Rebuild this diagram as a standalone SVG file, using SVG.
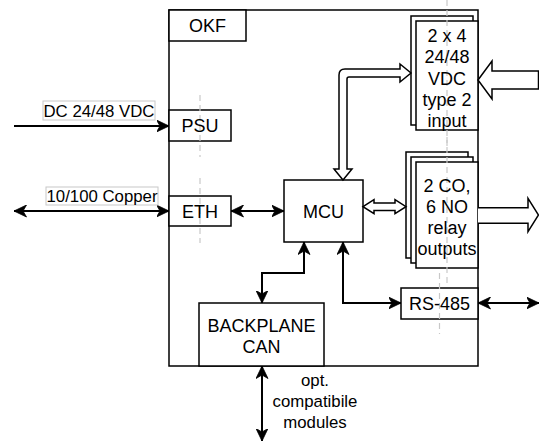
<svg xmlns="http://www.w3.org/2000/svg" width="539" height="441" viewBox="0 0 539 441">
<style>
.box{fill:#fff;stroke:#000;stroke-width:1.5}
.frame{fill:none;stroke:#000;stroke-width:1.5}
.t{font-family:"Liberation Sans",Arial,sans-serif;font-size:18px;fill:#000;text-anchor:middle}
.s{font-family:"Liberation Sans",Arial,sans-serif;font-size:16.8px;fill:#000;text-anchor:middle}
.lbl{fill:#fff;stroke:#c8c8c8;stroke-width:1}
.dash{stroke:#c8c8c8;stroke-width:1.2;stroke-dasharray:6 4;fill:none}
.con{fill:none;stroke:#000;stroke-width:2}
.end{marker-end:url(#arr)}
.both{marker-start:url(#arr);marker-end:url(#arr)}
.flex{fill:#fff;stroke:#000;stroke-width:1.5;stroke-linejoin:miter}
</style>
<defs>
<marker id="arr" viewBox="0 0 13 13" refX="12.5" refY="6.5" markerWidth="13" markerHeight="13" markerUnits="userSpaceOnUse" orient="auto-start-reverse">
<path d="M0,0.5 L12.5,6.5 L0,12.5 L3.5,6.5 Z" fill="#000" stroke="#000" stroke-width="0.8"/>
</marker>
</defs>

<g id="okf">
<rect class="frame" x="169" y="10" width="309" height="356"/>
<rect class="box" x="169" y="10" width="77" height="31"/>
<text class="t" x="207.5" y="32">OKF</text>
</g>

<g id="psu">
<rect class="box" x="169" y="110" width="62" height="31"/>
<line class="dash" x1="200" y1="95" x2="200" y2="157"/>
<text class="t" x="200" y="132">PSU</text>
</g>

<g id="eth">
<rect class="box" x="169" y="196" width="62" height="30"/>
<line class="dash" x1="200" y1="178" x2="200" y2="243"/>
<text class="t" x="200" y="218">ETH</text>
</g>

<g id="mcu">
<rect class="box" x="284" y="180" width="79" height="62"/>
<text class="t" x="323.5" y="218">MCU</text>
</g>

<g id="inputs">
<rect class="box" x="411" y="16" width="62" height="109"/>
<rect class="box" x="416" y="21" width="62" height="109"/>
<line class="dash" x1="447" y1="0" x2="447" y2="146"/>
<text class="t" x="447" y="42">2 x 4</text>
<text class="t" x="447" y="63">24/48</text>
<text class="t" x="447" y="85">VDC</text>
<text class="t" x="447" y="106">type 2</text>
<text class="t" x="447" y="127">input</text>
</g>

<g id="relays">
<rect class="box" x="406" y="152" width="62" height="106"/>
<rect class="box" x="411" y="157" width="62" height="106"/>
<rect class="box" x="416" y="162" width="62" height="106"/>
<line class="dash" x1="447" y1="137" x2="447" y2="284"/>
<text class="t" x="447" y="192">2 CO,</text>
<text class="t" x="447" y="213">6 NO</text>
<text class="t" x="447" y="234">relay</text>
<text class="t" x="447" y="255">outputs</text>
</g>

<g id="rs485">
<rect class="box" x="401" y="288" width="77" height="31"/>
<line class="dash" x1="439.5" y1="273" x2="439.5" y2="334"/>
<text class="t" x="439.5" y="310">RS-485</text>
</g>

<g id="backplane">
<rect class="box" x="199" y="303" width="125" height="63"/>
<text class="t" x="261.5" y="332">BACKPLANE</text>
<text class="t" x="261.5" y="353">CAN</text>
</g>

<g id="connectors">
<line class="con end" x1="14" y1="126" x2="169" y2="126"/>
<rect class="lbl" x="43" y="101" width="112" height="19"/>
<text class="s" x="99" y="116.5">DC 24/48 VDC</text>

<line class="con both" x1="14" y1="211" x2="169" y2="211"/>
<rect class="lbl" x="46" y="187" width="112" height="18"/>
<text class="s" x="102" y="202">10/100 Copper</text>

<line class="con both" x1="231" y1="211" x2="284" y2="211"/>

<path class="con both" d="M304,242 L304,273 L262,273 L262,303"/>
<path class="con both" d="M343,242 L343,303 L401,303"/>
<line class="con both" x1="478" y1="303" x2="539" y2="303"/>
<line class="con both" x1="262" y1="366" x2="262" y2="441"/>
<text class="s" x="315" y="386">opt.</text>
<text class="s" x="315" y="407">compatibile</text>
<text class="s" x="315" y="428">modules</text>

<path class="flex" d="M343,180 L352,169 L347,169 L347,79 Q347,77 349,77 L400,77 L400,82 L411,73 L400,64 L400,69 L345,69 Q339,69 339,75 L339,169 L334,169 Z"/>
<path class="flex" d="M363,206.7 L374,199.7 L374,203 L395,203 L395,199.7 L406,206.7 L395,213.7 L395,210.4 L374,210.4 L374,213.7 Z"/>
<path class="flex" d="M478,80 L492,61 L492,71 L538.5,71 L538.5,89 L492,89 L492,99 Z"/>
<path class="flex" d="M478,207.7 L528,207.7 L528,198.3 L538.5,215 L528,231.7 L528,223.3 L478,223.3"/>
</g>
</svg>
